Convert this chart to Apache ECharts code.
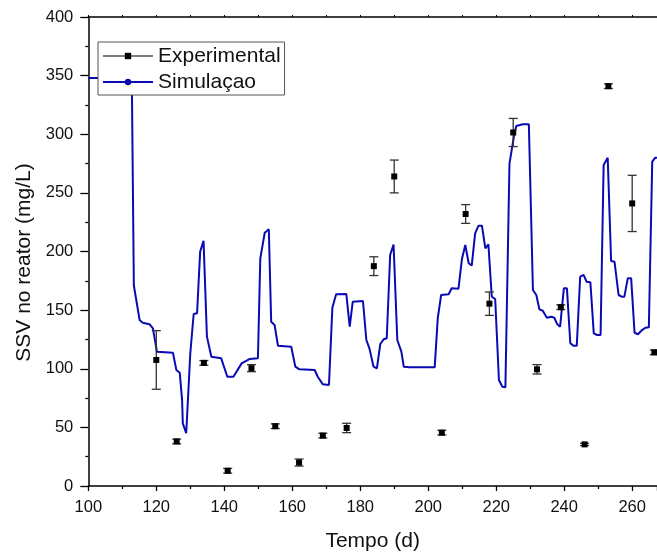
<!DOCTYPE html>
<html>
<head>
<meta charset="utf-8">
<script src="https://cdn.jsdelivr.net/npm/echarts@6/dist/echarts.min.js"></script>
<style>
  html, body { margin: 0; padding: 0; background: #fff; }
  #chart { width: 657px; height: 558px; }
</style>
</head>
<body>
<div id="chart"></div>
<script>
var chart = echarts.init(document.getElementById('chart'));

// experimental points (tempo, SSV, error)
var expX = [120, 126, 134, 141, 148, 155, 162, 169, 176, 184, 190, 204, 211, 218, 225, 232, 239, 246, 253, 260, 266.5];
var expY = [107.5, 38, 105, 13, 100.5, 51, 20, 43, 49.5, 187.5, 264, 45.5, 232, 155.5, 301.5, 99.5, 152.5, 35.5, 341, 241, 114];
var expErr = [25, 2, 2, 2, 3, 2, 3, 2, 4, 8, 14, 2, 8, 10, 12, 4, 2, 1, 2, 24, 2];

// simulation curve
var simX = [100, 112.8, 113.4, 115.1, 116, 118, 119, 120.2, 124.9, 125.9, 126.9, 127.6, 127.8, 128.8, 129.6, 130,
  131, 132, 132.9, 133.9, 134.9, 136.2, 139.1, 140.9, 142.7, 145.1, 147.4, 149.9, 150.6, 151.9, 153.1, 153.8,
  154.8, 155.8, 159.7, 160.9, 162.1, 166.6, 167.5, 169, 170.8, 171.8, 172.9, 175.9, 176.9, 177.8, 180.8, 181.8,
  182.7, 183.9, 184.9, 185.9, 186.9, 187.8, 188.8, 189.8, 190.9, 192.1, 192.8, 194.5, 201.9, 202.8, 203.8, 206,
  206.9, 208.9, 209.9, 210.9, 211.9, 212.8, 213.8, 214.8, 215.8, 216.8, 217.7, 218.7, 219.7, 220.8, 221.8, 222.7,
  223.9, 225.2, 225.9, 227.8, 229.6, 230.8, 231.8, 232.7, 233.7, 234.9, 236.2, 237.1, 237.9, 238.8, 239.9, 240.8,
  241.8, 242.7, 243.7, 244.7, 245.7, 246.6, 247.7, 248.7, 249.7, 250.7, 251.6, 252.8, 253.8, 254.8, 256, 256.9,
  257.7, 258.7, 259.7, 260.7, 261.7, 262.9, 263.9, 264.9, 265.9, 266.8, 268];
var simY = [348, 348, 171, 141.5, 139.3, 138, 134.5, 114.5, 113.7, 99, 96.6, 73, 53.4, 45, 90, 113,
  146.7, 147.3, 199.8, 209.2, 127.4, 110.3, 108.9, 93.2, 93.2, 104.6, 108.3, 108.9, 194.2, 216, 218.9, 140,
  137.3, 119.6, 118.8, 101.8, 99.5, 98.9, 93.2, 86.7, 86.1, 152.1, 163.5, 163.8, 135.9, 157.2, 157.8, 124.5,
  117.4, 101.8, 100.4, 121.1, 125.1, 126, 197, 206, 124.5, 114.6, 101.8, 101.2, 101.2, 143, 162.9, 163.5,
  168.6, 168.3, 193.3, 205.5, 190, 188, 215.5, 222, 222, 202.7, 206.1, 161.4, 159.5, 90.4, 84.7, 84.2,
  275, 298, 307, 308.5, 308.5, 167.2, 162.9, 150.7, 149.5, 143.5, 144.4, 143.5, 138.2, 135.9, 168.6, 168.6,
  121.7, 119.7, 119.7, 178.5, 180, 174.2, 173.7, 130.2, 128.8, 128.8, 273.8, 280, 191.9, 191.3, 162.9, 161.5,
  161.5, 177.1, 177.1, 130.7, 129.4, 133, 135, 135.3, 276.6, 280, 280];

var xTicks = [100, 120, 140, 160, 180, 200, 220, 240, 260];

var expData = expX.map(function (x, i) { return [x, expY[i]]; });
var errData = expX.map(function (x, i) { return [x, expY[i] - expErr[i], expY[i] + expErr[i]]; });
var simData = simX.map(function (x, i) { return [x, simY[i]]; });

var labelFont = { fontFamily: 'Liberation Sans', fontSize: 16.5, color: '#111' };
var axisBlack = { lineStyle: { color: '#000', width: 1.5 } };

option = {
  animation: false,
  grid: {
    left: 88.3,
    right: 0,
    top: 17,
    bottom: 72
  },
  legend: {
    orient: 'vertical',
    left: 98,
    top: 42,
    padding: [2, 4, 1, 4],
    itemGap: 2,
    itemWidth: 50,
    itemHeight: 8,
    backgroundColor: '#fff',
    borderColor: '#555',
    borderWidth: 1,
    borderRadius: 0,
    textStyle: { fontFamily: 'Liberation Sans', fontSize: 21, color: '#111', lineHeight: 24 },
    data: [
      { name: 'Experimental', lineStyle: { color: '#555', width: 1.3, opacity: 1 } },
      { name: 'Simulaçao' }
    ]
  },
  xAxis: [{
    type: 'value',
    min: 100,
    max: 267.3,
    interval: 20,
    name: 'Tempo (d)',
    nameLocation: 'middle',
    nameGap: 45,
    nameTextStyle: { fontFamily: 'Liberation Sans', fontSize: 21, color: '#111' },
    axisLine: axisBlack,
    axisTick: { show: true, inside: false, length: 5, lineStyle: { color: '#000', width: 1.3 } },
    minorTick: { show: true, splitNumber: 2, length: 3, lineStyle: { color: '#000', width: 1.3 } },
    axisLabel: Object.assign({
      margin: 13,
      showMaxLabel: false,
      formatter: function (v) { return xTicks.indexOf(v) >= 0 ? String(v) : ''; }
    }, labelFont),
    splitLine: { show: false }
  }, {
    type: 'value',
    position: 'top',
    min: 100,
    max: 267.3,
    interval: 10,
    axisLine: axisBlack,
    axisTick: { show: true, inside: false, length: 2, lineStyle: { color: '#000', width: 1 } },
    axisLabel: { show: false },
    splitLine: { show: false }
  }],
  yAxis: {
    type: 'value',
    min: 0,
    max: 400,
    interval: 50,
    name: 'SSV no reator (mg/L)',
    nameLocation: 'middle',
    nameGap: 53,
    nameTextStyle: { fontFamily: 'Liberation Sans', fontSize: 21, color: '#111', padding: [0, 22, 0, 0] },
    axisLine: { show: true, lineStyle: { color: '#000', width: 1.5 } },
    axisTick: { show: true, inside: false, length: 8, lineStyle: { color: '#000', width: 1.3 } },
    minorTick: { show: true, splitNumber: 2, length: 3, lineStyle: { color: '#000', width: 1.3 } },
    axisLabel: Object.assign({ margin: 15 }, labelFont),
    splitLine: { show: false }
  },
  series: [
    {
      name: 'Experimental',
      type: 'line',
      data: expData,
      symbol: 'rect',
      symbolSize: 6,
      showSymbol: true,
      itemStyle: { color: '#000' },
      lineStyle: { opacity: 0 },
      z: 5
    },
    {
      name: 'Experimental',
      type: 'custom',
      data: errData,
      z: 4,
      renderItem: function (params, api) {
        var x = api.value(0);
        var lo = api.coord([x, api.value(1)]);
        var hi = api.coord([x, api.value(2)]);
        var half = 4.5;
        var st = { stroke: '#333', lineWidth: 1.3 };
        return {
          type: 'group',
          children: [
            { type: 'line', shape: { x1: lo[0], y1: lo[1], x2: hi[0], y2: hi[1] }, style: st },
            { type: 'line', shape: { x1: lo[0] - half, y1: lo[1], x2: lo[0] + half, y2: lo[1] }, style: st },
            { type: 'line', shape: { x1: hi[0] - half, y1: hi[1], x2: hi[0] + half, y2: hi[1] }, style: st }
          ]
        };
      }
    },
    {
      name: 'Simulaçao',
      type: 'line',
      data: simData,
      symbol: 'circle',
      symbolSize: 4,
      showSymbol: false,
      clip: true,
      itemStyle: { color: '#0a0ab4' },
      lineStyle: { color: '#0a0ab4', width: 2 },
      z: 3
    }
  ]
};

if (option && typeof option === "object") {
  chart.setOption(option, true);
}
</script>
</body>
</html>
